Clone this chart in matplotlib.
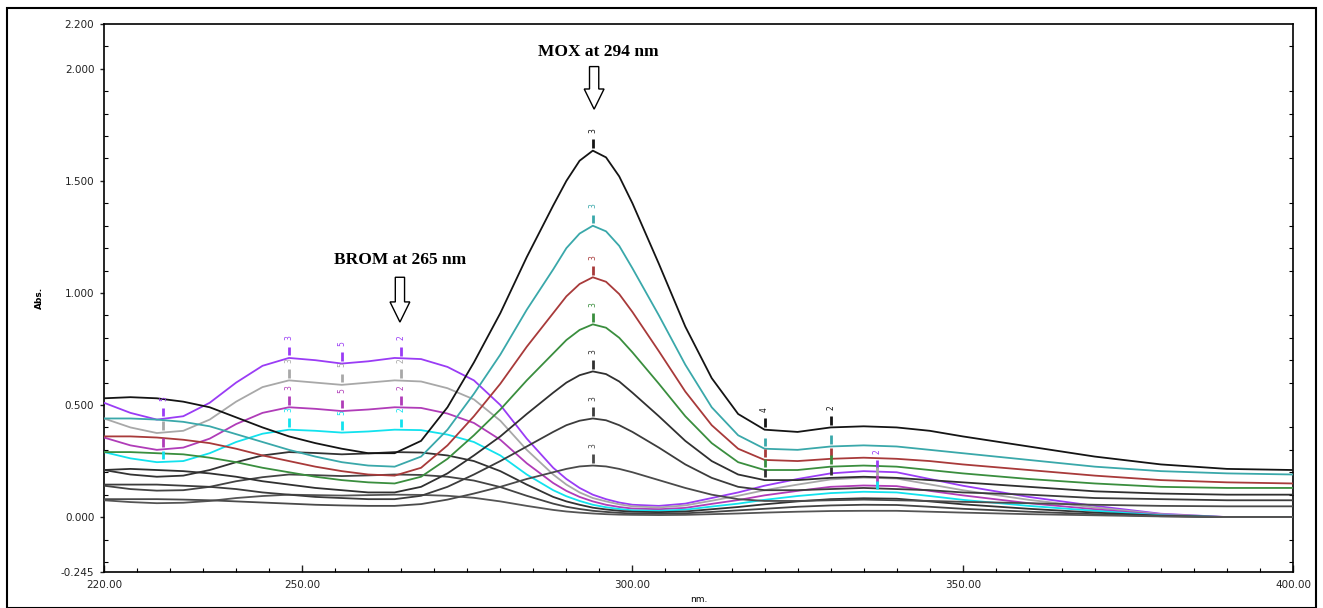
import matplotlib
matplotlib.use("Agg")
import matplotlib.pyplot as plt
import numpy as np
from matplotlib.patches import FancyArrow, Rectangle
from matplotlib.ticker import MultipleLocator, FixedLocator

# ------------------------------------------------------------
# data (nm vs Abs.)
# ------------------------------------------------------------
WL = [220, 224, 228, 232, 236, 240, 244, 248, 252, 256, 260, 264, 268, 272, 276,
      280, 284, 288, 290, 292, 294, 296, 298, 300, 304, 308, 312, 316, 320, 325, 330, 335,
      340, 345, 350, 360, 370, 380, 390, 400]

# moxifloxacin series (band at 294 nm)
MOX_1 = [0.53, 0.535, 0.53, 0.515, 0.49, 0.445, 0.40, 0.36, 0.33, 0.305, 0.285, 0.285, 0.34, 0.49, 0.69,
         0.91, 1.16, 1.39, 1.50, 1.59, 1.635, 1.605, 1.52, 1.40, 1.13, 0.85, 0.62, 0.46, 0.39, 0.38, 0.40, 0.405,
         0.40, 0.385, 0.36, 0.315, 0.27, 0.235, 0.215, 0.21]
MOX_2 = [0.44, 0.44, 0.435, 0.425, 0.405, 0.37, 0.335, 0.30, 0.27, 0.245, 0.23, 0.225, 0.27, 0.39, 0.55,
         0.725, 0.925, 1.105, 1.20, 1.265, 1.30, 1.275, 1.21, 1.11, 0.90, 0.68, 0.49, 0.365, 0.305, 0.30, 0.315, 0.32,
         0.315, 0.30, 0.285, 0.255, 0.225, 0.205, 0.195, 0.19]
MOX_3 = [0.36, 0.36, 0.355, 0.345, 0.33, 0.305, 0.275, 0.25, 0.225, 0.205, 0.19, 0.185, 0.22, 0.32, 0.45,
         0.595, 0.76, 0.91, 0.985, 1.04, 1.07, 1.05, 0.995, 0.915, 0.74, 0.56, 0.41, 0.305, 0.255, 0.25, 0.26, 0.265,
         0.26, 0.25, 0.235, 0.21, 0.185, 0.165, 0.155, 0.15]
MOX_4 = [0.29, 0.29, 0.285, 0.28, 0.265, 0.245, 0.22, 0.20, 0.18, 0.165, 0.155, 0.15, 0.18, 0.26, 0.365,
         0.48, 0.61, 0.73, 0.79, 0.835, 0.86, 0.845, 0.80, 0.735, 0.595, 0.45, 0.33, 0.245, 0.21, 0.21, 0.225, 0.23,
         0.225, 0.21, 0.195, 0.17, 0.15, 0.135, 0.13, 0.13]
MOX_5 = [0.21, 0.215, 0.21, 0.205, 0.195, 0.18, 0.16, 0.145, 0.13, 0.12, 0.11, 0.11, 0.135, 0.195, 0.275,
         0.36, 0.46, 0.555, 0.60, 0.633, 0.65, 0.638, 0.605, 0.555, 0.45, 0.34, 0.25, 0.19, 0.165, 0.165, 0.175, 0.18,
         0.175, 0.165, 0.155, 0.135, 0.115, 0.105, 0.10, 0.10]
MOX_6 = [0.145, 0.145, 0.145, 0.14, 0.135, 0.125, 0.11, 0.10, 0.09, 0.085, 0.08, 0.08, 0.095, 0.135, 0.19,
         0.25, 0.315, 0.38, 0.41, 0.43, 0.44, 0.432, 0.41, 0.38, 0.31, 0.235, 0.175, 0.135, 0.12, 0.12, 0.125, 0.13,
         0.125, 0.12, 0.11, 0.10, 0.085, 0.08, 0.075, 0.075]
MOX_7 = [0.08, 0.08, 0.08, 0.078, 0.075, 0.07, 0.065, 0.06, 0.055, 0.052, 0.05, 0.05, 0.058, 0.078, 0.105,
         0.135, 0.17, 0.20, 0.215, 0.226, 0.23, 0.226, 0.215, 0.20, 0.165, 0.13, 0.10, 0.08, 0.072, 0.072, 0.075, 0.078,
         0.075, 0.072, 0.068, 0.062, 0.055, 0.05, 0.048, 0.048]

# bromhexine series (bands at 248 / 265 nm)
BROM_1 = [0.51, 0.465, 0.435, 0.45, 0.51, 0.60, 0.675, 0.71, 0.70, 0.685, 0.695, 0.71, 0.705, 0.67, 0.61,
          0.50, 0.35, 0.22, 0.17, 0.13, 0.10, 0.08, 0.065, 0.055, 0.05, 0.06, 0.085, 0.11, 0.14, 0.17, 0.195, 0.205,
          0.20, 0.17, 0.14, 0.09, 0.05, 0.015, 0.0, 0.0]
BROM_2 = [0.44, 0.40, 0.375, 0.385, 0.435, 0.515, 0.58, 0.61, 0.60, 0.59, 0.60, 0.61, 0.605, 0.575, 0.525,
          0.43, 0.30, 0.19, 0.145, 0.11, 0.085, 0.07, 0.057, 0.048, 0.043, 0.052, 0.073, 0.095, 0.12, 0.145, 0.168, 0.176,
          0.172, 0.146, 0.12, 0.077, 0.043, 0.013, 0.0, 0.0]
BROM_3 = [0.355, 0.32, 0.30, 0.31, 0.35, 0.415, 0.465, 0.49, 0.483, 0.473, 0.48, 0.49, 0.487, 0.462, 0.42,
          0.345, 0.24, 0.152, 0.117, 0.09, 0.07, 0.055, 0.045, 0.038, 0.035, 0.041, 0.059, 0.076, 0.097, 0.117, 0.135, 0.141,
          0.138, 0.117, 0.097, 0.062, 0.035, 0.01, 0.0, 0.0]
BROM_4 = [0.29, 0.262, 0.245, 0.25, 0.285, 0.335, 0.372, 0.39, 0.385, 0.377, 0.382, 0.39, 0.388, 0.368, 0.335,
          0.275, 0.19, 0.12, 0.093, 0.072, 0.055, 0.044, 0.036, 0.03, 0.028, 0.033, 0.047, 0.06, 0.077, 0.094, 0.107, 0.113,
          0.11, 0.094, 0.077, 0.05, 0.028, 0.008, 0.0, 0.0]
BROM_5 = [0.21, 0.19, 0.18, 0.185, 0.21, 0.245, 0.275, 0.29, 0.286, 0.28, 0.284, 0.29, 0.288, 0.275, 0.25,
          0.205, 0.145, 0.09, 0.07, 0.055, 0.042, 0.034, 0.028, 0.024, 0.022, 0.025, 0.035, 0.045, 0.057, 0.07, 0.08, 0.084,
          0.082, 0.07, 0.057, 0.037, 0.02, 0.006, 0.0, 0.0]
BROM_6 = [0.14, 0.125, 0.118, 0.12, 0.135, 0.16, 0.178, 0.19, 0.187, 0.183, 0.186, 0.19, 0.188, 0.18, 0.163,
          0.134, 0.095, 0.06, 0.046, 0.036, 0.028, 0.023, 0.019, 0.016, 0.015, 0.017, 0.023, 0.03, 0.037, 0.046, 0.052, 0.055,
          0.054, 0.046, 0.037, 0.024, 0.013, 0.004, 0.0, 0.0]
BROM_7 = [0.075, 0.067, 0.062, 0.064, 0.072, 0.085, 0.094, 0.10, 0.098, 0.096, 0.098, 0.10, 0.099, 0.095, 0.086,
          0.07, 0.05, 0.032, 0.025, 0.02, 0.016, 0.013, 0.011, 0.01, 0.009, 0.01, 0.013, 0.016, 0.02, 0.024, 0.027, 0.028,
          0.028, 0.024, 0.02, 0.013, 0.008, 0.003, 0.0, 0.0]

MOX_SERIES = [MOX_1, MOX_2, MOX_3, MOX_4, MOX_5, MOX_6, MOX_7]
BROM_SERIES = [BROM_1, BROM_2, BROM_3, BROM_4, BROM_5, BROM_6, BROM_7]

MOX_COLORS = ["#141414", "#3aa8aa", "#a83a3a", "#3a8e3e", "#303030", "#3c3c3c", "#4a4a4a"]
BROM_COLORS = ["#9a3cf5", "#a8a8a8", "#b03cb8", "#12e2ee", "#333333", "#444444", "#555555"]

# peak-pick markers (wavelength, label)
MOX_PEAK_MARKS = [(294, "3")]
MOX_SIDE_MARKS = [(320, "4"), (330, "2")]
BROM_MARKS = [(229, "5"), (248, "3"), (256, "5"), (265, "2"), (337, "2")]

X_TICKS = [220, 250, 300, 350, 400]
Y_TICKS = [-0.245, 0.0, 0.5, 1.0, 1.5, 2.0, 2.2]

W, H = 1323, 608
fig = plt.figure(figsize=(W / 100, H / 100), dpi=100)
ax = fig.add_axes([104 / W, 1 - 572 / H, (1293 - 104) / W, (572 - 24) / H])

for vals, col in zip(BROM_SERIES, BROM_COLORS):
    ax.plot(WL, vals, color=col, lw=1.3, zorder=3, solid_joinstyle="round")
for vals, col in zip(MOX_SERIES, MOX_COLORS):
    ax.plot(WL, vals, color=col, lw=1.3, zorder=3, solid_joinstyle="round")


def mark(vals, col, marks, label=True):
    for nm, lab in marks:
        y = np.interp(nm, WL, vals)
        ax.plot([nm, nm], [y + 0.012, y + 0.05], color=col, lw=2.0, zorder=4,
                solid_capstyle="butt")
        if label:
            ax.text(nm, y + 0.09, lab, rotation=90, fontsize=5.5, color=col,
                    ha="center", va="center", zorder=4)


for vals, col in zip(MOX_SERIES, MOX_COLORS):
    mark(vals, col, MOX_PEAK_MARKS)
for i, (vals, col) in enumerate(zip(MOX_SERIES[:5], MOX_COLORS[:5])):
    mark(vals, col, MOX_SIDE_MARKS, label=(i == 0))
for i, (vals, col) in enumerate(zip(BROM_SERIES[:4], BROM_COLORS[:4])):
    mark(vals, col, BROM_MARKS[1:4])
    mark(vals, col, [BROM_MARKS[0], BROM_MARKS[4]], label=(i == 0))

# annotations with hollow arrows
ax.text(294.8, 2.076, "MOX at 294 nm", fontsize=12.5, fontweight="bold",
        family="Liberation Serif", ha="center", va="center")
ax.add_patch(FancyArrow(294.2, 2.01, 0, -0.19, width=1.4, head_width=3.0,
                        head_length=0.09, length_includes_head=True,
                        fc="white", ec="black", lw=1.0, zorder=5))
ax.text(264.8, 1.147, "BROM at 265 nm", fontsize=12.5, fontweight="bold",
        family="Liberation Serif", ha="center", va="center")
ax.add_patch(FancyArrow(264.8, 1.07, 0, -0.20, width=1.4, head_width=3.0,
                        head_length=0.09, length_includes_head=True,
                        fc="white", ec="black", lw=1.0, zorder=5))

ax.set_xlim(220, 400)
ax.set_ylim(-0.245, 2.2)
ax.xaxis.set_major_locator(FixedLocator(X_TICKS))
ax.xaxis.set_minor_locator(MultipleLocator(5))
ax.yaxis.set_major_locator(FixedLocator(Y_TICKS))
ax.yaxis.set_minor_locator(MultipleLocator(0.1))
ax.set_xticklabels([f"{v:.2f}" for v in X_TICKS])
ax.set_yticklabels([f"{v:.3f}" for v in Y_TICKS])
ax.tick_params(axis="x", which="major", direction="in", length=5, width=1,
               labelsize=7.5, pad=6, colors="#222222")
ax.tick_params(axis="x", which="minor", direction="in", length=3, width=0.8)
ax.tick_params(axis="y", which="major", direction="out", length=3, width=1,
               labelsize=7.5, pad=4, colors="#222222")
ax.tick_params(axis="y", which="minor", direction="in", length=3, width=0.8,
               right=True)
for sp in ax.spines.values():
    sp.set_linewidth(1.2)

ax.set_xlabel("nm.", fontsize=6.5, labelpad=3)
ax.set_ylabel("Abs.", fontsize=6.5, fontweight="bold", labelpad=12)

fig.patches.append(Rectangle((7 / W, 0), (1316 - 7) / W, 1 - 8 / H,
                             transform=fig.transFigure, fill=False,
                             ec="black", lw=1.5))

fig.savefig("out.png", dpi=100)
